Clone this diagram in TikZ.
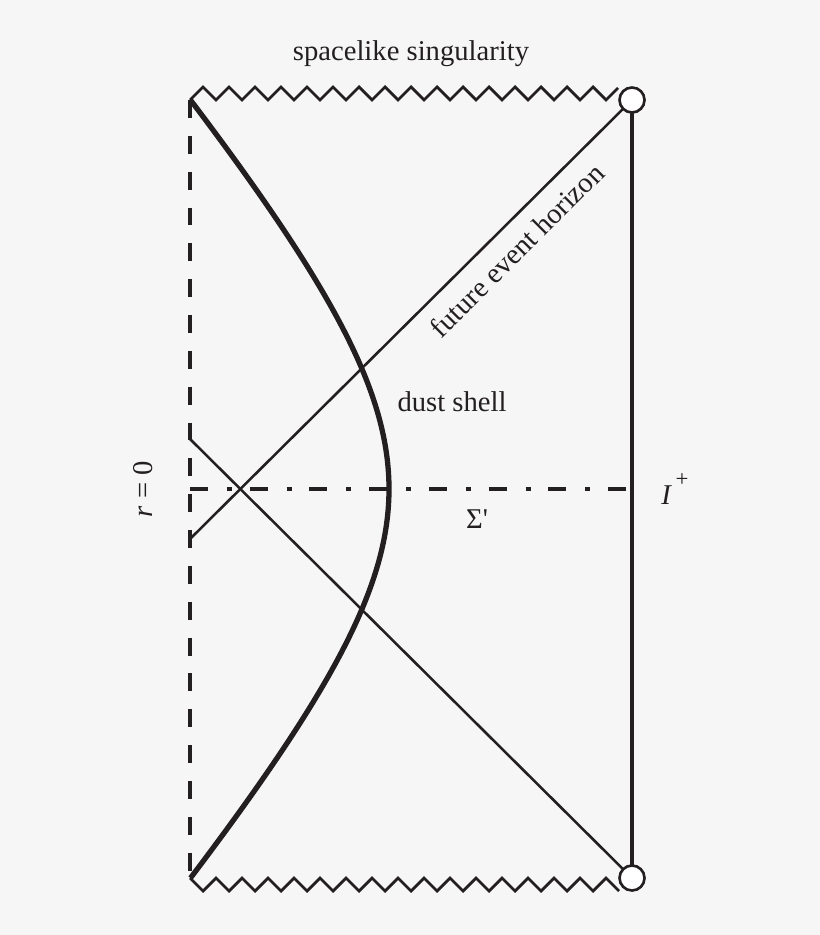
\documentclass[tikz,border=0pt]{standalone}
\usepackage{fontspec}
\setmainfont{Liberation Serif}
\usetikzlibrary{shapes}
\definecolor{ink}{RGB}{35,31,32}
\definecolor{paper}{RGB}{246,246,246}
\tikzstyle{thin_line} = [draw, color=ink, line width=1.45pt]
\tikzstyle{bound} = [draw, color=ink, line width=1.9pt]
\tikzstyle{origin} = [draw, color=ink, line width=1.9pt, dash pattern=on 10.2pt off 10.2pt]
\tikzstyle{slice} = [draw, color=ink, line width=1.9pt, dash pattern=on 10.2pt off 10.8pt on 2.8pt off 10.2pt]
\tikzstyle{shell} = [draw, color=ink, line width=3pt]
\tikzstyle{sing} = [draw, color=ink, line width=1.6pt, line join=miter]
\tikzstyle{infty} = [draw, circle, color=ink, fill=white, line width=1.5pt, inner sep=0pt, minimum size=0.5cm]
\tikzstyle{txt} = [text=ink, inner sep=1pt, font=\fontsize{16.3}{19}\selectfont]

\begin{document}
\begin{tikzpicture}[x=0.02cm, y=-0.02cm]
\fill[paper] (0,0) rectangle (820,935);

\coordinate (tl) at (190,100);
\coordinate (bl) at (190,878);
\coordinate (scri_top) at (632,100);
\coordinate (scri_bot) at (632,878);
\coordinate (scri_mid) at (632,489);
\coordinate (origin_mid) at (190,489);
\coordinate (hor_start) at (190,539);
\coordinate (past_start) at (190,439);

\draw [origin] (tl) -- (bl);
\draw [bound] (scri_top) -- (scri_bot);
\draw [sing] (tl) \foreach \i in {1,...,16} { -- ++(13,-13) -- ++(13,13) } -- ++(12,-12);
\draw [sing] (bl) \foreach \i in {1,...,16} { -- ++(13,13) -- ++(13,-13) } -- ++(13,13);

\draw [slice] (origin_mid) -- (scri_mid);
\draw [thin_line] (hor_start) -- (scri_top);
\draw [thin_line] (past_start) -- (scri_bot);

\draw [shell] plot [domain=-389:389, samples=121, smooth] ({389-186*(sqrt(1+(\x/215)*(\x/215))-1)}, {489+\x});

\node [infty] (top_pt) at (scri_top) {};
\node [infty] (bot_pt) at (scri_bot) {};


\node [txt] (sing_lbl) at (411,54) {spacelike singularity};
\node [txt, rotate=90] (r_lbl) at (143,489) {\textit{r} = 0};
\node [txt, right of=scri_mid, node distance=0.86cm] (scri_lbl) {\textit{I}\kern2pt\raisebox{10pt}{\fontsize{13}{13}\selectfont +}};
\node [txt] (sigma_lbl) at (477,519) {Σ\textquotesingle};
\node [txt] (shell_lbl) at (452,402) {dust shell};
\node [txt, rotate=45] (hor_lbl) at (517,250) {future event horizon};
\end{tikzpicture}
\end{document}
